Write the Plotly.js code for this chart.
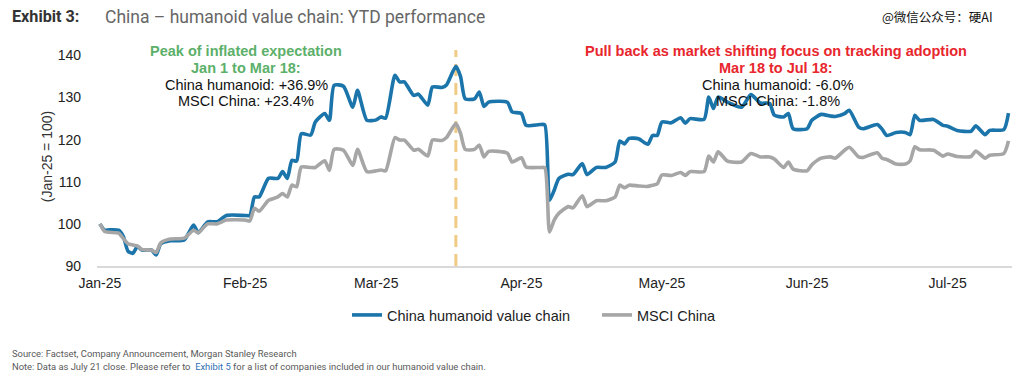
<!DOCTYPE html>
<html><head><meta charset="utf-8">
<script src="https://cdn.plot.ly/plotly-3.0.1.min.js"></script>
<style>html,body{margin:0;padding:0;background:#fff}#chart{width:1024px;height:390px}</style>
</head><body><div id="chart"></div>
<script>
// Dates (2025, MM-DD) at which the lines were read
const dates = [
 '01-01','01-02','01-03','01-05','01-06','01-07','01-08','01-09','01-10','01-12','01-13','01-14','01-16','01-19','01-21','01-22','01-24','01-26','01-28',
 '02-01','02-02','02-03','02-04','02-06','02-08','02-09','02-10','02-11','02-12','02-13','02-15','02-16','02-18','02-19','02-20','02-22','02-24','02-25','02-27',
 '03-01','03-02','03-03','03-05','03-06','03-07','03-09','03-10','03-12','03-13','03-15','03-16','03-18','03-19','03-20','03-22','03-23','03-24','03-25','03-29','03-30',
 '04-01','04-02','04-05','04-06','04-07','04-08','04-09','04-11','04-12','04-14','04-15','04-17','04-19','04-21','04-22','04-23','04-24','04-26','04-28','04-29','04-30',
 '05-01','05-03','05-05','05-06','05-07','05-10','05-11','05-12','05-13','05-15','05-18','05-20','05-22','05-24','05-25','05-27','05-28','05-29',
 '06-01','06-02','06-04','06-06','06-07','06-09','06-10','06-12','06-13','06-16','06-17','06-18','06-20','06-22','06-23','06-24','06-25','06-28','06-30',
 '07-01','07-03','07-06','07-07','07-09','07-10','07-13','07-14'
];
const humanoid = [
 100,98.5,98.6,98.5,97.0,93.5,93.0,94.6,93.8,93.8,92.6,95.3,96.0,96.2,99.7,97.9,100.5,100.5,102.0,
 102.0,102.0,106.4,106.4,110.8,110.8,112.4,110.8,115.1,114.9,121.4,121.1,124.2,126.2,124.6,132.9,132.7,127.7,131.7,124.6,
 124.7,125.4,125.1,135.3,133.7,133.7,130.5,130.8,128.2,132.5,132.4,133.0,137.4,135.0,129.7,129.7,131.3,127.9,128.9,128.9,126.6,
 126.2,123.4,123.6,123.5,105.6,108.0,110.8,111.8,111.7,114.3,111.7,113.4,113.4,114.7,119.7,119.0,120.3,120.2,118.9,121.0,121.0,
 124.2,124.0,125.2,123.9,125.0,124.8,130.1,127.4,130.1,128.9,127.7,130.7,128.7,128.6,125.8,125.4,126.2,122.6,
 122.6,124.6,126.0,125.6,125.5,126.2,127.0,123.0,122.6,123.6,122.5,121.0,121.7,121.7,121.2,125.8,124.6,124.8,123.4,
 123.2,122.2,122.0,123.3,121.2,122.2,122.4,126.3
];
const msci = [
 100,98.2,98.0,97.8,96.5,95.3,95.0,94.8,93.9,93.8,93.2,95.5,96.4,96.6,98.5,97.9,100.0,100.0,100.9,
 100.9,100.7,103.7,103.0,105.6,106.4,107.2,106.4,109.2,108.8,113.5,113.4,113.4,115.0,112.7,117.7,117.5,113.9,117.7,112.4,
 112.6,112.8,112.6,120.5,119.9,119.9,117.5,117.7,116.1,119.9,119.8,120.5,123.8,121.5,117.7,117.7,118.7,115.9,117.2,116.8,114.7,
 115.7,113.5,113.4,113.3,98.1,100.9,102.5,104.1,103.8,106.7,104.1,105.5,105.5,106.4,109.2,108.6,109.2,109.0,108.9,109.2,109.5,
 111.6,111.5,112.2,111.5,112.4,112.4,116.1,114.7,117.1,114.9,114.7,116.7,115.9,115.9,115.4,113.4,114.7,113.0,
 112.6,114.0,115.6,115.9,115.6,117.5,118.2,115.9,115.8,116.9,115.6,115.3,114.2,114.2,115.0,118.3,117.6,117.5,116.1,
 116.6,116.0,116.0,117.3,115.6,116.3,116.7,119.7
];
const monthTicks = ['2025-01-01','2025-02-01','2025-03-01','2025-04-01','2025-05-01','2025-06-01','2025-07-01'];
const monthLabels = ['Jan-25','Feb-25','Mar-25','Apr-25','May-25','Jun-25','Jul-25'];
const yTicks = [90,100,110,120,130,140];
const markerDate = '2025-03-18';

const x = dates.map(d => '2025-' + d);
const F = 'Liberation Sans, Arial, sans-serif';
const R = 'Roboto, Liberation Sans, sans-serif';

const traces = [
 {x: x, y: humanoid, type: 'scatter', mode: 'lines', name: 'China humanoid value chain',
  line: {color: '#1b75ab', width: 3.6, shape: 'spline', smoothing: 0.6}},
 {x: x, y: msci, type: 'scatter', mode: 'lines', name: 'MSCI China',
  line: {color: '#a6a6a6', width: 3.6, shape: 'spline', smoothing: 0.6}}
];

function py(p){ return (266 - p) / 219; }
function px(p){ return (p - 97) / 915; }

const ann = [];
function txt(t, xp, yp, opts){
  ann.push(Object.assign({text: t, x: px(xp), y: py(yp), xref: 'paper', yref: 'paper', showarrow: false,
    xanchor: 'center', yanchor: 'middle', font: {family: F, size: 14.5, color: '#111'}}, opts || {}));
}
txt('<b>Peak of inflated expectation</b>', 246, 51, {font: {family: F, size: 14.5, color: '#5cb06a'}});
txt('<b>Jan 1 to Mar 18:</b>', 246, 67.5, {font: {family: F, size: 14.5, color: '#5cb06a'}});
txt('China humanoid: +36.9%', 246, 84.5);
txt('MSCI China: +23.4%', 246, 101);
txt('<b>Pull back as market shifting focus on tracking adoption</b>', 776, 51, {font: {family: F, size: 14.5, color: '#e8262d'}});
txt('<b>Mar 18 to Jul 18:</b>', 776, 67.5, {font: {family: F, size: 14.5, color: '#e8262d'}});
txt('China humanoid: -6.0%', 778, 84.5);
txt('MSCI China: -1.8%', 778, 101);
txt('<b>Exhibit 3:</b>', 10, 17, {xanchor: 'left', font: {family: R, size: 16.2, color: '#333'}});
txt('China \u2013 humanoid value chain: YTD performance', 103, 17, {xanchor: 'left', font: {family: R, size: 17.5, color: '#666'}});
txt('@微信公众号：硬AI', 880, 17, {xanchor: 'left', font: {family: 'Noto Sans CJK SC', size: 12.5, color: '#111'}});
txt('Source: Factset, Company Announcement, Morgan Stanley Research', 10, 353, {xanchor: 'left', font: {family: R, size: 9.4, color: '#595959'}});
txt('Note: Data as July 21 close. Please refer to  <span style="color:#2f6fb5">Exhibit 5</span> for a list of companies included in our humanoid value chain.', 10, 366, {xanchor: 'left', font: {family: R, size: 9.4, color: '#595959'}});

const layout = {
  width: 1024, height: 390,
  margin: {l: 97, r: 12, t: 47, b: 124},
  paper_bgcolor: '#fff', plot_bgcolor: '#fff',
  showlegend: true,
  legend: {orientation: 'h', x: px(347), xanchor: 'left', y: py(315), yanchor: 'middle',
    entrywidth: 205, entrywidthmode: 'pixels',
    font: {family: F, size: 14.5, color: '#222'}, bgcolor: 'rgba(0,0,0,0)'},
  xaxis: {type: 'date', range: ['2024-12-31 09:00', '2025-07-14 18:00'],
    tickvals: monthTicks, ticktext: monthLabels, ticks: '', showgrid: false, zeroline: false,
    showline: true, linecolor: '#d9d9d9', linewidth: 2, ticklabelstandoff: 3,
    tickfont: {family: F, size: 14, color: '#222'}, fixedrange: true},
  yaxis: {range: [90, 142], tickvals: yTicks, ticks: '', showgrid: false, zeroline: false, showline: false,
    ticklabelstandoff: 15, tickfont: {family: F, size: 14, color: '#222'},
    title: {text: '(Jan-25 = 100)', font: {family: F, size: 14, color: '#333'}, standoff: 1}, fixedrange: true},
  shapes: [{type: 'line', xref: 'x', yref: 'paper', x0: markerDate, x1: markerDate, y0: 0, y1: 0.986,
    line: {color: '#efcb85', width: 3, dash: '12px,7px'}, layer: 'below'}],
  annotations: ann
};
Plotly.newPlot('chart', traces, layout, {displayModeBar: false, staticPlot: true});
</script></body></html>
